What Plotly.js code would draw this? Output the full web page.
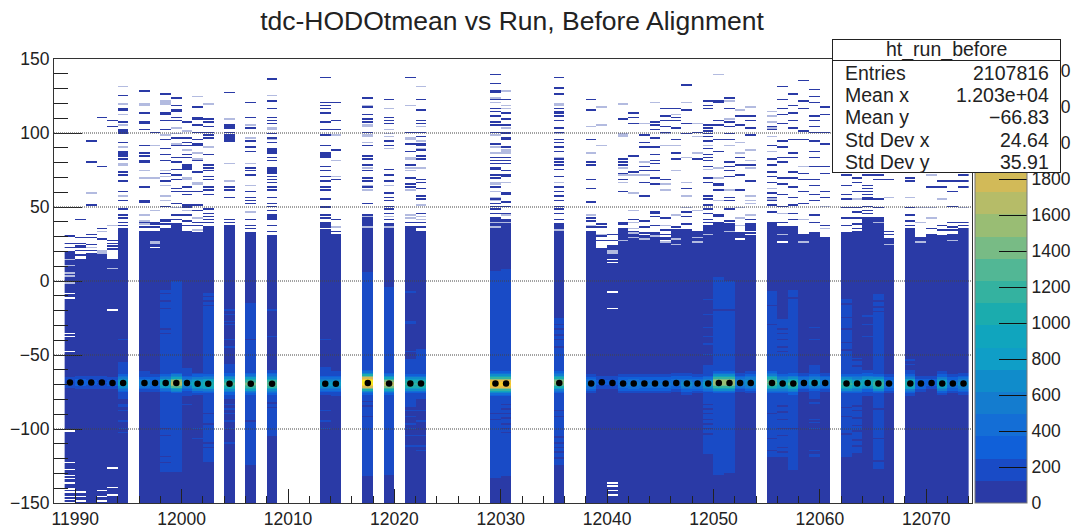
<!DOCTYPE html>
<html>
<head>
<meta charset="utf-8">
<script src="https://cdn.plot.ly/plotly-3.0.1.min.js"></script>
<style>html,body{margin:0;padding:0;background:#fff}#p{width:1078px;height:532px}</style>
</head>
<body>
<div id="p"></div>
<script>
const titleText = 'tdc-HODOtmean vs Run, Before Alignment';
const statsName = 'ht_run_before';
const statsLabels = ['Entries','Mean x','Mean y','Std Dev x','Std Dev y'];
const statsValues = ['2107816','1.203e+04','\u221266.83','24.64','35.91'];

const firstRun = 11989, lastRun = 12073;
const runs = [11989,11990,11991,11992,11993,11994,
  11996,11997,11998,11999,12000,12001,12002,
  12004,12006,12008,12013,12014,12017,12019,12021,12022,12029,12030,12035,
  12038,12039,12040,12041,12042,12043,12044,12045,12046,12047,12048,12049,12050,12051,12052,12053,
  12055,12056,12057,12058,12059,12060,
  12062,12063,12064,12065,12066,
  12068,12069,12070,12071,12072,12073];

// top of the filled part of each column
const ceilings = [20,15,19,18,15,36,
  34,34,36,39,34,33,37,
  38,33,31,35,32,45,39,37,34,43,42,39,
  34,22,23,36,34,31,33,30,35,34,34,38,40,39,33,38,
  40,37,37,32,33,30,
  33,34,43,43,29,
  36,29,32,31,32,36];

// counts in the peak bin of each column
const peaks = [200,300,260,250,300,1000,
  600,500,1100,1750,800,900,1050,
  1250,1400,1300,850,800,2450,1700,1150,1150,2200,2200,1500,
  550,260,260,450,550,500,500,500,450,650,550,850,1600,1600,600,700,
  1400,1000,1250,550,850,550,
  1150,1000,900,1200,450,
  1050,350,300,900,500,700];

// black markers: fitted mean of each column
const means = [-68.5,-68.5,-68.5,-68.5,-69,-69,
  -69,-69,-69,-69,-69,-69.4,-69.4,
  -69.4,-69.4,-69.4,-69.4,-69.4,-68.9,-69.3,-69.3,-69.3,-69.3,-69.3,-68.9,
  -69.3,-68.4,-68.9,-69.3,-69.3,-69.3,-69.3,-69.3,-68.9,-69.3,-69.3,-69.3,-68.9,-68.9,-68.9,-68.9,
  -68.9,-69.3,-69.3,-68.9,-68.9,-68.9,
  -69.3,-69.3,-68.9,-69.3,-69.3,
  -69.3,-69.3,-68.9,-69.3,-69.3,-69.3];

// y range in which the column sits one colour band higher
const lightLo = [null,null,null,null,null,-80,
  -75,null,-129,-129,-78,-76,-122,
  -80,-124,-105,-76,-78,-132,-131,-85,-80,-133,-132,-124,
  null,null,null,null,null,null,null,null,null,null,null,-117,-131,-130,null,null,
  -119,-119,-128,null,-80,null,
  -119,-116,-78,-127,null,
  -76,null,null,-76,null,-75];
const lightHi = [null,null,null,null,null,-55,
  -61,null,-6,0,-59,-62,-8,
  -56,-15,-60,-58,-61,6,-4,-53,-46,7,8,-25,
  null,null,null,null,null,null,null,null,null,null,null,-57,3,0,null,null,
  -7,-26,-6,null,-57,null,
  -12,-52,-60,-9,null,
  -60,null,null,-61,null,-62];

// single rows that differ from the rest of their column, lower half
const streaks = [[],[],[],[],[],[-40,-84,-85,-88,-95,-100,-103],
  [],[],[-9,-14,-19,-33,-36,-119,-123,-100,-105],[],[-84],[-100,-107],[-11,-14,-17,-90,-97,-110,-113],
  [-20,-23,-28,-30,-40,-45,-84,-87,-90,-95,-100,-110],[-40,-95],[-20,-38,-83,-86],[-40,-88,-95,-100],[],[-82,-85,-92],[],[-8,-28,-29,-48,-88,-92,-97,-100,-105,-112],[-88,-95,-105,-112,-115],[-90,-94],[-84,-87,-90,-93,-97,-100,-103],[-30,-33,-37,-40,-45,-88,-92,-106,-110,-113,-116,-120],
  [],[],[],[],[],[],[],[],[],[],[],[-13,-23,-32,-38,-43,-50,-84,-87,-90,-94,-97,-100,-104],[-20],[-20],[],[],
  [-17,-30,-90,-107,-115],[-33,-36,-40,-45,-48,-85,-89,-94,-100,-105,-113,-116],[-12,-100],[],[-32,-40,-83,-94,-96,-100,-115,-118,-119],[],
  [-16,-25,-33,-42,-47,-86,-92,-104],[-54,-58,-85,-88,-93,-98,-102,-108,-112],[-24,-30,-38],[-14,-18,-21,-87,-107,-122],[],
  [-54,-57],[],[],[],[],[]];

// rows above the fill (or cut into it): full colour
const darkRows = [
 [30,25,22],[41,29,25,23,22,20,17],[94,80,51,31,29,24,20],[110,77,35,28],[108,104,27,25,23,21],[125,116,115,107,102,101,100,99,93,87,86,85,84,82,73,71,67,60,54,48,44,42,39,37],
 [128,113,107,106,102,91,86,84,81,80,63,54,53,39,36,33],[100,39,38,36,32],[126,113,112,108,102,95,89,85,81,72,67,50,41,40,38],[123,118,115,114,110,108,96,91,83,80,75,71,68,62,60,52,44,41],[107,96,93,91,85,83,78,77,76,75,63,60,58,51,50,49,44,40,37],[117,110,109,105,100,95,92,91,81,73,60,51,47,39,37],[109,107,104,100,98,96,85,78,76,74,70,68,63,61,58,48,45,43,41,39],
 [127,105,104,103,100,98,97,96,95,94,63,61,56,41,39],[120,110,103,94,90,87,76,74,71,60,56,54,52,41,37,35],[136,121,116,110,108,106,99,96,93,89,88,87,86,83,81,76,75,74,73,72,70,68,66,63,61,56,52,50,47,44,43,42,41,37,33],[137,120,118,116,113,107,102,98,91,86,85,84,83,77,74,70,67,63,61,55,50,49,44,42,39,38,37,36],[120,108,102,88,68,41,33],[123,117,112,109,107,100,91,84,82,78,74,69,67,63,52],[122,110,108,106,94,91,75,71,67,59,56,54,50,48,45,41],[137,100,92,87,78,69,65,63,39],[122,115,108,106,100,97,92,91,88,84,82,68,66,62,57,55,45,39,36],[139,133,128,127,122,116,114,111,107,105,100,92,83,81,79,76,75,71,69,63,55,52,50,48,45],[122,113,109,105,100,99,96,95,90,83,81,79,74,71,70,59,58,53,50,45,40],[137,130,126,116,114,113,111,108,103,100,95,93,90,87,82,80,78,75,70,63,60,57,54,50,48,45,41],
 [122,115,95,80,78,68,62,53,42,40,36],[38,36,30,27],[31,27,23],[109,82,80,78,72,68,60,39,38],[113,110,106,84,73,41],[98,93,90,77,74,66,57,40,36,32],[107,105,102,96,90,85,81,79,74,69,65,46,45,43,37],[116,111,108,104,100,68,42,34,31],[116,110,108,103,95,86,82,36,33],[132,115,106,99,62,46,43,38,34],[100,82],[121,118,116,105,103,101,99,97,94,89,85,83,81,77,69,66,57,55,51,48,45,41,39],[121,120,108,105,95,87,65,64,61,44,43],[123,116,107,104,99,95,80,77,74,70,56,54,48,40],[111,105,83,78,71,61],[111,108,103,98,78,67,41,38],
 [104,102,91,82,78,73,70,66,59,56,54,51,46],[131,122,116,112,106,94,90,83,80,69,65,58,50,39,32],[126,118,113,108,103,95,86,83,73,69,63,56,51,45,41],[135,121,116,101,95,72,68,60,52],[129,124,120,111,108,104,100,94,87,83,77,68,64,58,54,44,39],[117,112,100,92,77,72,60,56,37],
 [71,64,58,55,49,42,37],[69,66,60,49,46,42,38,35],[71,64,62,60,58,56,55,50,47,45],[71,68,55,49],[73,68,33,31],
 [73,69,67,49,44,40,37],[29],[63,35],[67,63,37,34],[67,60,50,39,36,34],[71,67,63,39,37]
];

// rows above the fill (or cut into it): drawn washed out by the image resampling
const paleRows = [
 [14,10,5,3,-2],[],[59,22],[33,20,19,18],[37,8],[131,119,112,105,90,79,78,57],
 [119,118,74,69,44,40,38],[91,69,47,26,25],[121,120,119,98,74,70,64,57,54],[103,99,92,49],[101,88,69,68,47],[124,86,82,66,65,42,34],[119,90],
 [109,79,67],[105,96,79,64,46],[125,103,102,95],[],[98,81,70,36],[118,105,104,98,97,93,76,64,61,43,36],[116,102,99,97,89,64,43,36],[118,96,95,83,82,76,74,61,44,42],[131,104,94,89,76,51,43,41],[123,120,98,90,86,66,65,60,56,54,39,36],[128,118,116,103,88,87,86,66,44,39],[119,118,99,83,66,34],
 [104,86,44,37],[117,105,91,31],[20,19,18],[119,99,98,97,76,71,66,27],[71,59,47,39,35,32,29],[106,80,71,28],[120,30],[99,91,65,61,37,26],[112,91,74,44,28,24],[120,83,66,57,49],[106,97,86,47,29,26],[91,75,31],[139,76,69,54],[121,109,91,61,33],[115,93,86,49,42,37],[117,88,81,76,57,54,52,44],
 [114,111,107,103,97,87,62,55],[45,31],[],[77,41,26],[],[50,35],
 [],[55],[],[39],[56,24],
 [56],[49,39,26],[71,49,42],[55],[27],[49]
];

// white rows cut out of the filled part of the column
const whiteRows = [
 [-9,-12,-36,-38,-48,-102,-123,-128,-132,-134,-137,-141,-143,-146,-148,-150],[-143,-146,-149],[],[-142,-146,-149],[-20,-127,-140,-145],[],
 [],[22],[],[],[],[],[],
 [],[],[],[],[],[],[],[],[],[],[],[],
 [],[],[19,14,12,-8,-19,-137,-139,-142,-145],[],[],[],[],[27],[],[],[],[],[],[],[28],[31,33],
 [],[26],[],[],[],[],
 [],[],[],[],[],
 [],[],[],[],[],[]
];

const peakProfile = [1,.96,.86,.72,.56,.41,.29,.2,.13,.085,.055,.035,.02];
const bandColors = ['#2a3aa6','#194bc6','#1060d9','#146ed6','#147ccf','#108ccb','#0f9ec7','#10a5be','#1bacae','#34b2a0',
  '#52b795','#78bb85','#99bd74','#b6bc68','#d2ba58','#e6bb47','#f2c038','#f6cb2c','#f7da1e','#f9e81e'];
const paleColor = '#b3bbe0';
const zTop = 2467, baseCount = 60, lightCount = 180;
const colorbarTicks = [0,200,400,600,800,1000,1200,1400,1600,1800,2000,2200,2400];
const gridLevels = [-100,-50,0,50,100];

// ---- build the histogram cells
const xBins = []; for (let r = firstRun; r <= lastRun; r++) xBins.push(r + 0.5);
const yBins = []; for (let v = -150; v < 150; v++) yBins.push(v + 0.5);
const z = yBins.map(() => xBins.map(() => null));
const zPale = yBins.map(() => xBins.map(() => null));
const rowOf = v => Math.max(0, Math.min(299, Math.floor(v + 150)));
runs.forEach((run, i) => {
  const c = run - firstRun;
  const top = rowOf(ceilings[i]);
  for (let r = 0; r < top; r++) {
    const v = yBins[r];
    let val = baseCount;
    if (lightLo[i] !== null && v >= lightLo[i] && v <= lightHi[i]) val = lightCount;
    const off = Math.round(Math.abs(v - means[i]));
    if (off < peakProfile.length) val = Math.max(val, peaks[i] * peakProfile[off]);
    z[r][c] = val;
  }
  streaks[i].forEach(v => { const r = rowOf(v); if (z[r][c] !== null) z[r][c] = z[r][c] > 123 ? baseCount : lightCount; });
  darkRows[i].forEach(v => { z[rowOf(v)][c] = baseCount; });
  paleRows[i].forEach(v => { const r = rowOf(v); z[r][c] = null; zPale[r][c] = 1; });
  whiteRows[i].forEach(v => { z[rowOf(v)][c] = null; });
});

const colorscale = [];
bandColors.forEach((col, i) => { colorscale.push([i / 20, col]); colorscale.push([(i + 1) / 20, col]); });

const font = 'Liberation Sans, Arial, sans-serif';
const ink = '#222';
const L = 54, R = 972, T = 59, B = 503;
const px = x => (x - L) / (R - L);
const py = y => (B - y) / (B - T);

const statFont = {family:font, size:19.5, color:ink};
const statAnn = [
  {x: px(946.5), y: py(106), xanchor:'center', yanchor:'middle', text:' ', width:227, height:132, bgcolor:'#fff', bordercolor:'#222', borderwidth:1, borderpad:0},
  {x: px(946.5), y: py(50), xanchor:'center', yanchor:'middle', text:' ', width:227, height:20, bgcolor:'#fff', bordercolor:'#222', borderwidth:1, borderpad:0},
  {x: px(946.5), y: py(49.5), xanchor:'center', yanchor:'middle', text:statsName, font:statFont, borderpad:0}
];
const rowYs = [73,95,117,140,162];
statsLabels.forEach((t, i) => {
  statAnn.push({x:px(844), y:py(rowYs[i]), xanchor:'left', yanchor:'middle', text:t, font:statFont, borderpad:0});
  statAnn.push({x:px(1050), y:py(rowYs[i]), xanchor:'right', yanchor:'middle', text:statsValues[i], font:statFont, borderpad:0});
});
statAnn.forEach(a => { a.xref='paper'; a.yref='paper'; a.showarrow=false; });

const traces = [
  {type:'heatmap', x:xBins, y:yBins, z:zPale, zmin:0, zmax:1, showscale:false, hoverinfo:'skip',
   colorscale:[[0,paleColor],[1,paleColor]], xgap:0, ygap:0},
  {type:'heatmap', x:xBins, y:yBins, z:z, zmin:0, zmax:zTop, colorscale:colorscale, hoverinfo:'skip',
   colorbar:{thickness:52, thicknessmode:'pixels', len:1, lenmode:'fraction',
     x:975/1078, xref:'container', xanchor:'left', y:0, yref:'paper', yanchor:'bottom',
     xpad:0, ypad:0, outlinewidth:1, outlinecolor:'#777', borderwidth:0,
     tickmode:'array', tickvals:colorbarTicks, ticktext:colorbarTicks.map(String),
     ticks:'inside', ticklen:28, tickwidth:1, tickcolor:'#111',
     tickfont:{family:font,size:17.5,color:ink}}},
  {type:'scatter', mode:'markers', x:runs.map(r => r + 0.5), y:means, hoverinfo:'skip',
   marker:{color:'#000', size:6.5}}
];

const layout = {
  width:1078, height:532, showlegend:false, paper_bgcolor:'#fff', plot_bgcolor:'#fff',
  margin:{l:L, r:1078-R, t:T, b:532-B, pad:0},
  title:{text:titleText, x:512/1078, xref:'container', xanchor:'center', y:1-21/532, yref:'container', yanchor:'middle',
    font:{family:font,size:26.5,color:ink}},
  xaxis:{range:[11988,12074.3], tick0:11990, dtick:10, tickformat:'d', ticks:'inside', ticklen:14, tickwidth:1, tickcolor:'#222',
    minor:{tick0:11990, dtick:2, ticks:'inside', ticklen:7, tickwidth:1, tickcolor:'#222', showgrid:false},
    showgrid:false, zeroline:false, showline:true, mirror:true, linecolor:'#333', linewidth:1,
    tickfont:{family:font,size:17.5,color:ink}},
  yaxis:{range:[-150,150], tick0:-150, dtick:50, ticks:'inside', ticklen:28, tickwidth:1, tickcolor:'#222',
    minor:{dtick:10, ticks:'inside', ticklen:14, tickwidth:1, tickcolor:'#222', showgrid:false},
    showgrid:false, zeroline:false, showline:true, mirror:true, linecolor:'#333', linewidth:1,
    tickfont:{family:font,size:17.5,color:ink}},
  shapes:gridLevels.map(v => ({type:'line', xref:'paper', x0:0, x1:1, yref:'y', y0:v, y1:v, layer:'above',
    line:{color:'#444', width:1, dash:'1px,1px'}})),
  annotations:statAnn
};
Plotly.newPlot('p', traces, layout, {displayModeBar:false, staticPlot:true});
</script>
</body>
</html>
